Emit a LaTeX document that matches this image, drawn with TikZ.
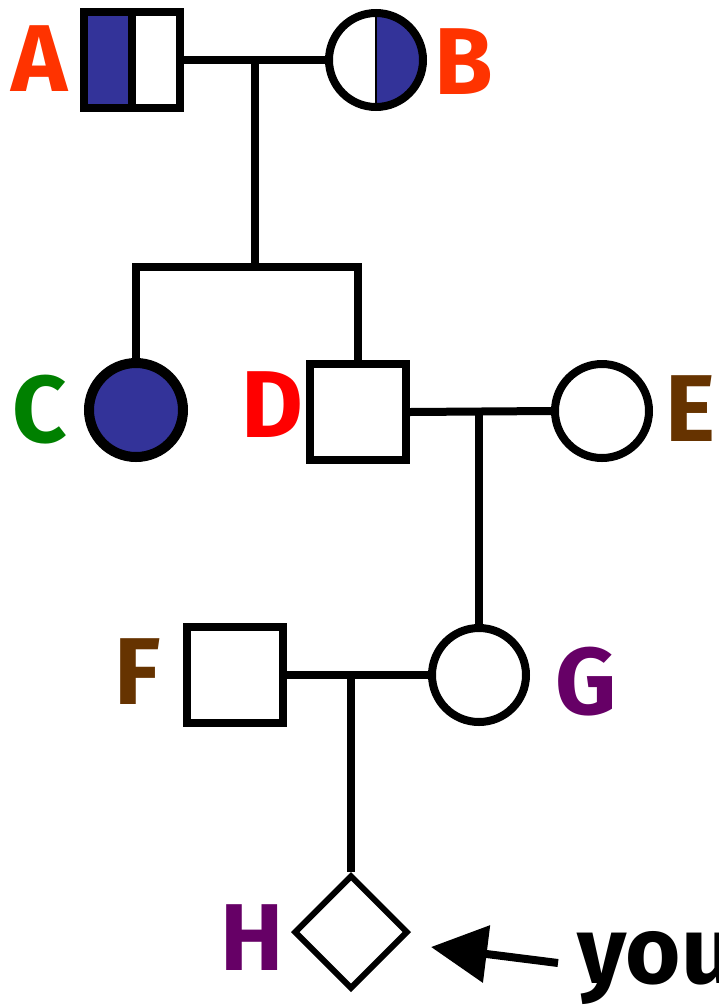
\documentclass[tikz,border=0pt]{standalone}
\usepackage{fontspec}
\setmainfont{Fira Sans}
\usetikzlibrary{shapes.geometric,arrows.meta}
\definecolor{affblue}{HTML}{333399}
\definecolor{lblorange}{HTML}{FF3300}
\definecolor{lblgreen}{HTML}{008000}
\definecolor{lblred}{HTML}{FF0000}
\definecolor{lblbrown}{HTML}{663300}
\definecolor{lblpurple}{HTML}{660066}
\begin{document}
\begin{tikzpicture}[x=1pt,y=-1pt,
  line/.style={line width=8pt},
  male/.style={draw,rectangle,line width=8pt,minimum size=96pt,inner sep=0pt},
  female/.style={draw,circle,line width=8pt,minimum size=94pt,inner sep=0pt},
  unknown/.style={draw,diamond,aspect=1,line width=6pt,minimum width=114pt,minimum height=114pt,inner sep=0pt},
  lbl/.style={font=\bfseries\fontsize{95}{95}\selectfont,inner sep=0pt,anchor=center}]
\useasboundingbox (0,0) rectangle (719,1005);
\clip (0,0) rectangle (719,1005);
% A fill and B fill
\fill[affblue] (84,12) rectangle (132,108);
\fill[affblue] (376,107) arc[start angle=90,end angle=-90,radius=47] -- cycle;
\draw[line width=2pt] (376,13) -- (376,107);
% nodes
\node[male] (A) at (132,60) {};
\draw[line width=8pt] (132,12) -- (132,108);
\node[female] (B) at (376,60) {};
\node[female,fill=affblue,line width=10pt] (C) at (136,410) {};
\node[male] (D) at (358,412) {};
\node[female] (E) at (602,411) {};
\node[male] (F) at (235,675) {};
\node[female] (G) at (479,675) {};
\node[unknown] (H) at (351,932) {};
% labels
\node[lbl,text=lblorange] (lA) at (40,59) {A};
\node[lbl,text=lblorange] (lB) at (464,62) {B};
\node[lbl,text=lblgreen] (lC) at (40,410) {C};
\node[lbl,text=lblred] (lD) at (272,405) {D};
\node[lbl,text=lblbrown] (lE) at (690,409) {E};
\node[lbl,text=lblbrown] (lF) at (138,672) {F};
\node[lbl,text=lblpurple] (lG) at (586,682) {G};
\node[lbl,text=lblpurple] (lH) at (252,938) {H};
\node[font=\bfseries\fontsize{95}{95}\selectfont,inner sep=0pt,anchor=base west] (you) at (577,983) {you};
% connectors
\coordinate (ab) at (255,60);
\coordinate (sib) at (255,267);
\coordinate (sibL) at (C.north |- sib);
\coordinate (sibR) at (D.north |- sib);
\draw[line] (A.east) -- (B.west);
\draw[line] (ab) -- (sib);
\draw[line] ([xshift=-4pt]sibL) -- ([xshift=4pt]sibR);
\draw[line] (sibL) -- (C.north);
\draw[line] (sibR) -- (D.north);
\draw[line] (D.east) -- (E.west);
\coordinate (de) at (G.north |- D.east);
\draw[line] (de) -- (G.north);
\draw[line] (F.east) -- (G.west);
\coordinate (fg) at (H.north |- F.east);
\draw[line] (fg) -- (H.north);
\coordinate (arrowtail) at (558,963);
\coordinate (arrowtip) at (431,947);
\draw[line,-{Triangle[length=56pt,width=56pt]}] (arrowtail) -- (arrowtip);
\end{tikzpicture}
\end{document}
